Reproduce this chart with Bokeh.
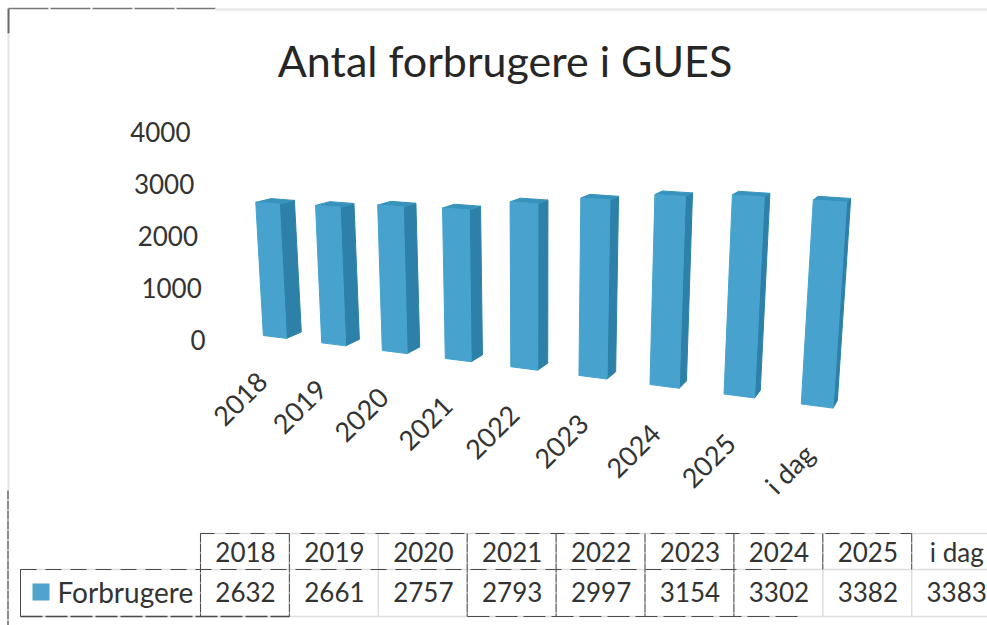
from bokeh.plotting import figure
from bokeh.embed import file_html
from bokeh.resources import INLINE
from bokeh.models import Range1d
from bokeh.core.properties import value as val

categories = ["2018", "2019", "2020", "2021", "2022", "2023", "2024", "2025", "i dag"]
values = [2632, 2661, 2757, 2793, 2997, 3154, 3302, 3382, 3383]
y_ticks = [0, 1000, 2000, 3000, 4000]
series_name = "Forbrugere"
title_text = "Antal forbrugere i GUES"

FONT = "Lato"
TEXT = "#333333"
FRONT, SIDE, TOP = "#47A2CE", "#2D81A8", "#3893BC"


def front(u, v):
    """Perspective projection of (category position, value) onto the page."""
    w = 1 / (1 - 0.0201 * u)
    x = (258 + 52.7 * u) * w
    y = (335 + 0.45 * u - 0.0506 * v) * w
    return 530 + (x - 530) * (5000 - y) / 4750, y


def back(pt):
    """Push a front point backwards towards the depth vanishing point."""
    return pt[0] + (1052 - pt[0]) * 0.0194, pt[1] + (10 - pt[1]) * 0.0194


p = figure(width=987, height=625, output_backend="svg", toolbar_location=None,
           x_range=Range1d(0, 987), y_range=Range1d(625, 0),
           min_border=0, outline_line_color=None, background_fill_color="white")
p.axis.visible = False
p.grid.visible = False

dark = "#4a4a4a"
light = "#dddddd"

# scan frame
p.segment([8], [8], [8], [33], line_color="#666666", line_width=2)
p.segment([8], [33], [8], [490], line_color="#e4e4e4", line_width=2)
p.segment([7.5], [490], [7.5], [625], line_color="#666666", line_width=1.5, line_dash="9 1")
p.segment([8], [8], [215], [8], line_color="#777777", line_width=1.5, line_dash="40 2")
p.segment([215], [9], [987], [9], line_color="#eaeaea", line_width=2.5)

# bars
fx, fy, sx, sy, tx, ty = [], [], [], [], [], []
bar_w = 0.4
for i, v in enumerate(values):
    a, b = front(i, v), front(i + bar_w, v)
    c, d = front(i + bar_w, 0), front(i, 0)
    fx.append([a[0], b[0], c[0], d[0]]); fy.append([a[1], b[1], c[1], d[1]])
    bb, bc, ba = back(b), back(c), back(a)
    sx.append([b[0], bb[0], bc[0], c[0]]); sy.append([b[1], bb[1], bc[1], c[1]])
    tx.append([a[0], ba[0], bb[0], b[0]]); ty.append([a[1], ba[1], bb[1], b[1]])
p.patches(sx, sy, fill_color=SIDE, line_color=SIDE, line_width=1)
p.patches(tx, ty, fill_color=TOP, line_color=TOP, line_width=1)
p.patches(fx, fy, fill_color=FRONT, line_color=FRONT, line_width=1)

# value axis labels
p.text([205 - t * 0.00375 for t in y_ticks], [339.5 - t * 0.052 for t in y_ticks],
       text=[str(t) for t in y_ticks], text_font=val(FONT), text_font_size="26px",
       text_color=TEXT, text_align="right", text_baseline="middle")

# category labels
base = [front(i, 0) for i in range(len(categories))]
p.text([b[0] + 1.1 * i - 1 for i, b in enumerate(base)],
       [b[1] + 41 + 0.5 * i for i, b in enumerate(base)],
       text=categories, angle=0.785, text_font=val(FONT), text_font_size="27px",
       text_color=TEXT, text_align="right", text_baseline="middle")

# title
p.text([504.5], [60], text=[title_text], text_font=val(FONT), text_font_size="43px",
       text_color="#262626", text_align="center", text_baseline="middle")

# data table
cell_x = [200 + 88.9 * k for k in range(len(categories) + 1)]
centres = [245 + 88.9 * k for k in range(len(categories))]
p.text(centres, [551] * len(centres), text=categories, text_font=val(FONT),
       text_font_size="26px", text_color=TEXT, text_align="center", text_baseline="middle")
p.text(centres, [591] * len(centres), text=[str(v) for v in values], text_font=val(FONT),
       text_font_size="26px", text_color=TEXT, text_align="center", text_baseline="middle")
p.text([57], [591], text=[series_name], text_font=val(FONT), text_font_size="28px",
       text_color=TEXT, text_align="left", text_baseline="middle")
p.quad(left=[32], right=[49], top=[583], bottom=[600], fill_color="#4FA3CC", line_color=None)

# table rules: light base, darker broken scan marks on top
p.segment([200], [533], [987], [533], line_color=light, line_width=1.5)
p.segment([20], [569], [987], [569], line_color=light, line_width=1.5)
p.segment([20], [616], [987], [616], line_color=light, line_width=1.5)
for k, x in enumerate(cell_x[:9]):
    p.segment([x], [533], [x], [616], line_color=light, line_width=1.5)
    if k != 2:
        end = 569 if k >= 7 else 616
        p.segment([x], [533], [x], [end], line_color=dark, line_width=1, line_dash="9 1")
p.segment([200], [533], [911], [533], line_color=dark, line_width=1, line_dash="14 11")
p.segment([20], [569], [790], [569], line_color=dark, line_width=1, line_dash="16 9")
p.segment([20], [616], [289], [616], line_color=dark, line_width=1.5, line_dash="22 3")
p.segment([467], [616], [800], [616], line_color=dark, line_width=1, line_dash="22 6")
p.segment([20], [569], [20], [616], line_color=dark, line_width=1)

open("out.html", "w").write(file_html(p, INLINE))
